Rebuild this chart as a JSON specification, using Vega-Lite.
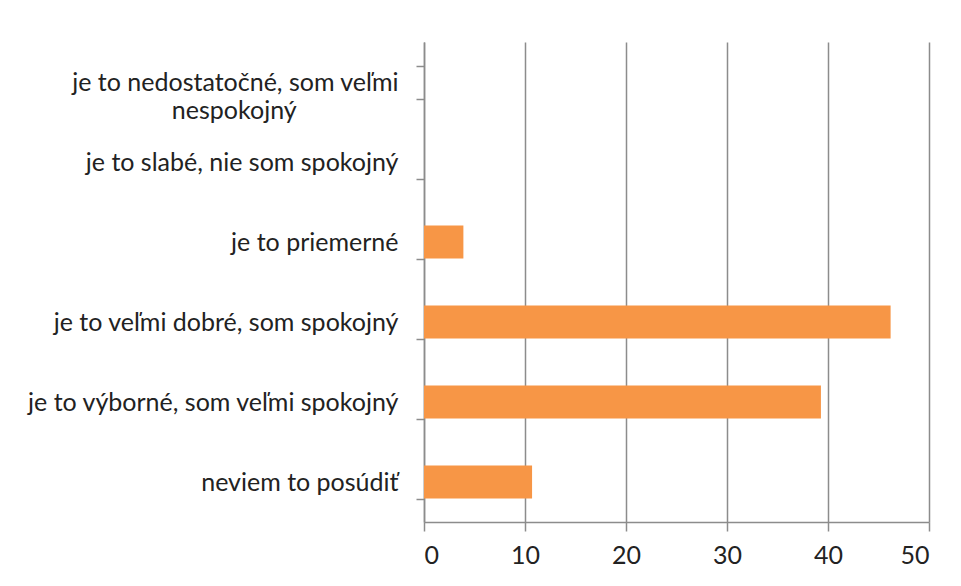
{
  "$schema": "https://vega.github.io/schema/vega-lite/v6.json",
  "width": 505,
  "height": 480,
  "autosize": {"type": "none"},
  "padding": {"left": 424, "top": 42, "right": 32, "bottom": 64},
  "background": "white",
  "config": {"view": {"stroke": null}},
  "data": {"values": [
    {"kategoria": "je to nedostatočné, som veľmi nespokojný", "hodnota": 0},
    {"kategoria": "je to slabé, nie som spokojný", "hodnota": 0},
    {"kategoria": "je to priemerné", "hodnota": 3.9},
    {"kategoria": "je to veľmi dobré, som spokojný", "hodnota": 46.2},
    {"kategoria": "je to výborné, som veľmi spokojný", "hodnota": 39.3},
    {"kategoria": "neviem to posúdiť", "hodnota": 10.7}
  ]},
  "mark": {"type": "bar", "color": "#F79646"},
  "encoding": {
    "y": {
      "field": "kategoria", "type": "nominal", "sort": null,
      "scale": {"paddingInner": 0.5875, "paddingOuter": 0.29375},
      "axis": {
        "title": null, "grid": false, "tickBand": "extent",
        "domainColor": "#8c8c8c", "domainWidth": 1.5, "tickColor": "#8c8c8c", "tickWidth": 1.5, "tickSize": 8,
        "labelFont": "Lato", "labelFontSize": 25, "labelColor": "#222222", "labelLimit": 420,
        "labelPadding": 18,
        "labelLineHeight": 28,
        "labelExpr": "indexof(datum.label, 'nedostato') >= 0 ? ['je to nedostatočné, som veľmi', 'nespokojný\u00a0\u00a0\u00a0\u00a0\u00a0\u00a0\u00a0\u00a0\u00a0\u00a0\u00a0\u00a0\u00a0\u00a0\u00a0\u00a0\u200b'] : datum.label"
      }
    },
    "x": {
      "field": "hodnota", "type": "quantitative",
      "scale": {"domain": [0, 50], "nice": false},
      "axis": {
        "title": null, "values": [0, 10, 20, 30, 40, 50],
        "grid": true, "gridColor": "#8c8c8c", "gridWidth": 1.5,
        "domainColor": "#8c8c8c", "domainWidth": 1.5, "tickColor": "#8c8c8c", "tickWidth": 1.5, "tickSize": 9,
        "labelFont": "Lato", "labelFontSize": 25, "labelColor": "#222222", "labelPadding": 12
      }
    }
  }
}
